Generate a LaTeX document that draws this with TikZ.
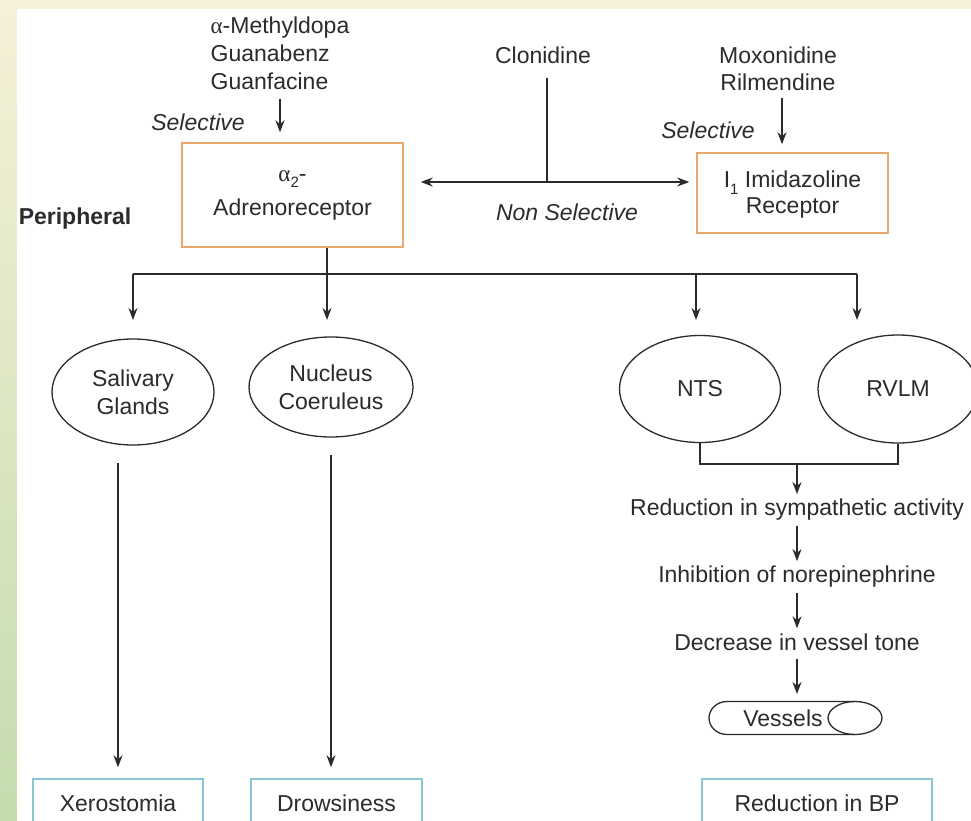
\documentclass[tikz,border=0pt]{standalone}
\usepackage{fontspec}
\setmainfont{Liberation Sans}
\newfontfamily\grk{Liberation Serif}
\usetikzlibrary{arrows.meta,shapes.geometric}

\definecolor{ink}{HTML}{2B2B2B}
\definecolor{cream}{HTML}{F6F0D8}
\definecolor{leafgreen}{HTML}{C3DCAE}
\definecolor{boxorange}{HTML}{E9A86C}
\definecolor{boxblue}{HTML}{8AC6D4}

\newcommand{\alphatxt}{{\grk α}}
\newcommand{\lowidx}[1]{\raisebox{-0.28em}{\fontsize{15}{15}\selectfont #1}}

\begin{document}
\begin{tikzpicture}[x=1pt,y=-1pt,
  every node/.style={font=\fontsize{23}{28}\selectfont, text=ink, inner sep=0pt},
  conn/.style={draw=ink, line width=1.6pt},
  arr/.style={conn, -{Stealth[length=12pt,width=9pt]}},
  recbox/.style={draw=boxorange, line width=1.5pt, align=center},
  outbox/.style={draw=boxblue, line width=1.5pt, minimum height=48pt},
  site/.style={ellipse, draw=ink, line width=1.3pt, align=center},
  chain/.style={inner sep=5pt},
  sel/.style={font=\fontsize{23}{28}\selectfont\itshape}
]
% page frame and background bands
\useasboundingbox (0,0) rectangle (971,821);
\clip (0,0) rectangle (971,821);
\fill[cream] (0,0) rectangle (971,9);
\shade[top color=cream, bottom color=leafgreen] (0,0) rectangle (17,821);
\fill[white] (17,9) rectangle (971,821);

% drugs and receptors
\node[align=left] (drugsA) at (280,53) {\alphatxt-Methyldopa\\Guanabenz\\Guanfacine};
\node[sel] (selA) at (198,122) {Selective};
\node[recbox, minimum width=221pt, minimum height=104pt, font=\fontsize{23}{34}\selectfont]
  (alpha) at (292.5,195) {\alphatxt\lowidx{2}-\\Adrenoreceptor};

\node (clon) at (543,55) {Clonidine};
\node[align=center, font=\fontsize{23}{27}\selectfont] (drugsB) at (778,68.5) {Moxonidine\\Rilmendine};
\node[sel] (selB) at (708,130) {Selective};
\node[recbox, minimum width=191pt, minimum height=80pt, font=\fontsize{23}{26}\selectfont]
  (imid) at (792.5,193) {\rule{0pt}{20pt}I\lowidx{1} Imidazoline\\Receptor};
\node[sel] (nonsel) at (567,212) {Non Selective};
\node[font=\fontsize{23}{28}\selectfont\bfseries] (periph) at (75,219) {Peripheral};

\draw[arr, shorten <=9pt, shorten >=10pt] (drugsA.south) -- (drugsA.south |- alpha.north);
\draw[arr, shorten <=7pt, shorten >=8pt] (drugsB.south -| 782,0) -- (imid.north -| 782,0);

% clonidine acts on both receptors
\coordinate (cl) at (547,182);
\draw[conn] (clon.south -| cl) ++(0,14) -- (cl);
\draw[arr, shorten >=17pt] (cl) -- (alpha.east |- cl);
\draw[arr, shorten >=7pt] (cl) -- (imid.west |- cl);

% sites of action
\node[site, minimum width=162pt, minimum height=106pt] (sal) at (133,392) {Salivary\\Glands};
\node[site, minimum width=164pt, minimum height=100pt] (nuc) at (331,387) {Nucleus\\Coeruleus};
\node[site, minimum width=161pt, minimum height=107pt] (nts) at (700,389) {NTS};
\node[site, minimum width=160pt, minimum height=108pt] (rvlm) at (898,389) {RVLM};

% branching from the receptors
\coordinate (b1) at (133,274);
\coordinate (b2) at (327,274);
\coordinate (b3) at (696,274);
\coordinate (b4) at (857,274);
\coordinate (tips) at (0,320);
\draw[conn] (alpha.south -| b2) -- (b2);
\draw[conn] (b1) -- (b4);
\foreach \b in {b1,b2,b3,b4}
  \draw[arr] (\b) -- (\b |- tips);

% central pathway
\coordinate (jn) at (797,464);
\draw[conn] (nts.south) -- (nts.south |- jn) -- (rvlm.south |- jn) -- (rvlm.south);
\node[chain] (red) at (797,510) {Reduction in sympathetic activity};
\node[chain] (inh) at (797,577) {Inhibition of norepinephrine};
\node[chain] (dec) at (797,642) {Decrease in vessel tone};
\node (ves) at (783,718) {Vessels};
\coordinate (vtop) at (797,694);
\draw[arr] (jn) -- (red);
\draw[arr] (red) -- (inh);
\draw[arr] (inh) -- (dec);
\draw[arr, shorten <=3pt] (dec) -- (vtop);

% vessel drawn as a lying cylinder
\draw[draw=ink, line width=1.3pt]
  (855,701.5) -- (727,701.5)
  .. controls (717,701.5) and (709,709) .. (709,718)
  .. controls (709,727) and (717,734.5) .. (727,734.5)
  -- (855,734.5);
\draw[draw=ink, line width=1.3pt] (855,718) ellipse [x radius=27pt, y radius=16.5pt];

% outcomes
\node[outbox, minimum width=170pt] (xero) at (118,803) {Xerostomia};
\node[outbox, minimum width=171pt] (drow) at (336.5,803) {Drowsiness};
\node[outbox, minimum width=230pt] (bp) at (817,803) {Reduction in BP};

\draw[arr, shorten <=17pt, shorten >=11pt] (sal.south -| xero.north) -- (xero.north);
\draw[arr, shorten <=17pt, shorten >=11pt] (nuc.south) -- (nuc.south |- drow.north);
\end{tikzpicture}
\end{document}
